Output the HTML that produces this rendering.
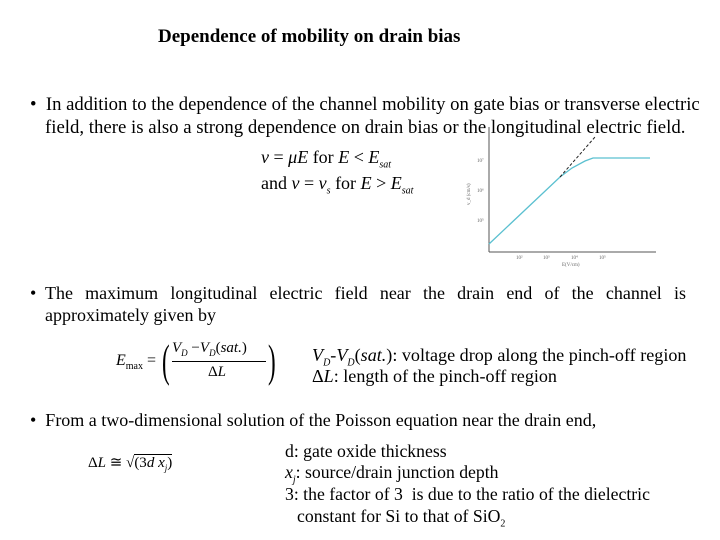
<!DOCTYPE html>
<html><head><style>
body{margin:0;width:720px;height:540px;background:#fff;font-family:"Liberation Serif",serif;color:#000;position:relative;overflow:hidden}
.a{position:absolute;white-space:nowrap}
.t{font-size:18px;line-height:20px}
.j{text-align:justify;text-align-last:justify;white-space:normal}
</style></head><body>
<div class="a" style="left:158px;top:26px;font-size:19px;font-weight:bold">Dependence of mobility on drain bias</div>
<div class="a t" style="left:30px;top:95px;font-size:18.7px">•&nbsp; In addition to the dependence of the channel mobility on gate bias or transverse electric</div>
<div class="a t" style="left:45px;top:118px;font-size:18.8px">field, there is also a strong dependence on drain bias or the longitudinal electric field.</div>
<div class="a" style="left:261px;top:147px;font-size:18px"><i>v</i> = <i>μE</i> for <i>E</i> &lt; <i>E<sub style="font-size:10px">sat</sub></i></div>
<div class="a" style="left:261px;top:173px;font-size:18px">and <i>v</i> = <i>v<sub style="font-size:10px">s</sub></i> for <i>E</i> &gt; <i>E<sub style="font-size:10px">sat</sub></i></div>
<svg class="a" style="left:0;top:0" width="720" height="540">
<line x1="489" y1="127" x2="489" y2="252" stroke="#555" stroke-width="1"/>
<line x1="489" y1="252" x2="656" y2="252" stroke="#555" stroke-width="1"/>
<polyline points="489,244 560,177 572,168 585,161 593,158 650,158" fill="none" stroke="#5bc0d0" stroke-width="1.3"/>
<line x1="560" y1="177" x2="595" y2="137" stroke="#222" stroke-width="1" stroke-dasharray="3,2"/>
<g font-size="5" fill="#666">
<text x="477" y="162">10⁷</text><text x="477" y="192">10⁶</text><text x="477" y="222">10⁵</text>
<text x="516" y="259">10²</text><text x="543" y="259">10³</text><text x="571" y="259">10⁴</text><text x="599" y="259">10⁵</text>
<text x="562" y="266">E(V/cm)</text>
<text x="470" y="205" transform="rotate(-90 470 205)">v_d (cm/s)</text>
</g>
</svg>
<div class="a t" style="left:30px;top:283px">•</div>
<div class="a t j" style="left:45px;top:283px;width:641px">The maximum longitudinal electric field near the drain end of the channel is</div>
<div class="a t" style="left:45px;top:305px">approximately given by</div>
<div class="a" style="left:116px;top:352px;font-size:16px"><i>E</i><sub style="font-size:10px">max</sub> =</div>
<div class="a" style="left:162px;top:334px;font-size:46px;font-weight:100;transform:scaleX(0.5);transform-origin:left">(</div>
<div class="a" style="left:172px;top:340px;font-size:15px"><i>V<sub style="font-size:9px">D</sub></i> −<i>V<sub style="font-size:9px">D</sub></i>(<i>sat.</i>)</div>
<div class="a" style="left:172px;top:361px;width:94px;border-top:1px solid #000"></div>
<div class="a" style="left:208px;top:364px;font-size:15px">Δ<i>L</i></div>
<div class="a" style="left:268px;top:334px;font-size:46px;transform:scaleX(0.5);transform-origin:left">)</div>
<div class="a t" style="left:312px;top:345px;font-size:18.1px"><i>V<sub style="font-size:10px">D</sub></i>-<i>V<sub style="font-size:10px">D</sub></i>(<i>sat.</i>): voltage drop along the pinch-off region</div>
<div class="a t" style="left:312px;top:366px;font-size:18.1px">Δ<i>L</i>: length of the pinch-off region</div>
<div class="a t" style="left:30px;top:410px;font-size:18px">•&nbsp; From a two-dimensional solution of the Poisson equation near the drain end,</div>
<div class="a" style="left:88px;top:453px;font-size:15px">Δ<i>L</i> ≅ √<span style="border-top:1px solid #000">(3<i>d x<sub style="font-size:9px">j</sub></i>)</span></div>
<div class="a t" style="left:285px;top:441px;font-size:17.7px">d: gate oxide thickness</div>
<div class="a t" style="left:285px;top:462px;font-size:17.7px"><i>x<sub style="font-size:10px">j</sub></i>: source/drain junction depth</div>
<div class="a t" style="left:285px;top:484px;font-size:17.7px">3: the factor of 3&nbsp; is due to the ratio of the dielectric</div>
<div class="a t" style="left:297px;top:506px;font-size:17.7px">constant for Si to that of SiO<sub style="font-size:10px">2</sub></div>
</body></html>
